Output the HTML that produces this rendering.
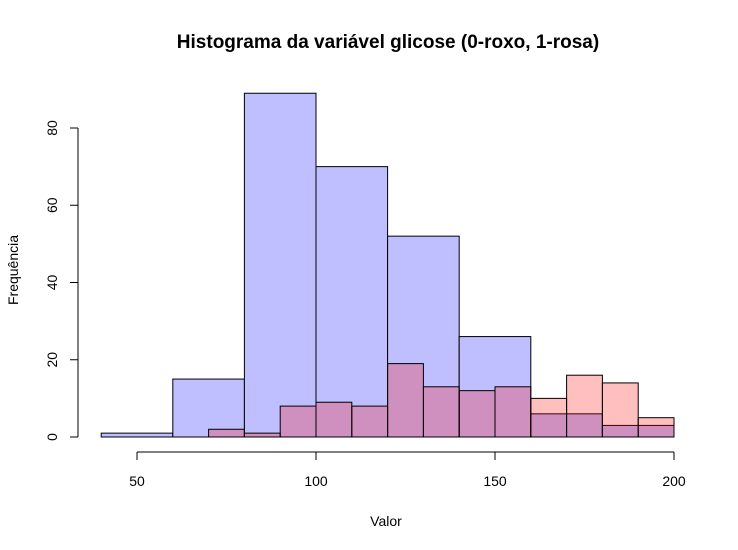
<!DOCTYPE html>
<html><head><meta charset="utf-8"><style>body{margin:0;background:#fff}svg{display:block;font-family:"Liberation Sans",Arial,sans-serif}</style></head>
<body>
<svg id="c" width="738" height="550">
<text x="388" y="48" text-anchor="middle" font-weight="bold" font-size="19">Histograma da variável glicose (0-roxo, 1-rosa)</text>
<text x="386" y="526" text-anchor="middle" font-size="14">Valor</text>
<text transform="translate(18,270) rotate(-90)" text-anchor="middle" font-size="14">Frequência</text>
<g id="bars"></g><g id="axes"></g>
</svg>
<script>
const blueBreaks=[40,60,80,100,120,140,160,180,200];
const blueCounts=[1,15,89,70,52,26,6,3];
const pinkBreaks=[70,80,90,100,110,120,130,140,150,160,170,180,190,200];
const pinkCounts=[2,1,8,9,8,19,13,12,13,10,16,14,5];
const xTicks=[50,100,150,200];
const yTicks=[0,20,40,60,80];
const NS="http://www.w3.org/2000/svg";
const X=v=>316+(v-100)*3.58, Y=v=>437-v*3.8625;
const bars=document.getElementById('bars'), axes=document.getElementById('axes');
function mk(p,tag,a){const e=document.createElementNS(NS,tag);for(const k in a)e.setAttribute(k,a[k]);p.appendChild(e);return e;}
function drawHist(br,ct,fill,name){ct.forEach((c,i)=>{const r=mk(bars,'rect',{x:X(br[i]),y:Y(c),width:X(br[i+1])-X(br[i]),height:Y(0)-Y(c),fill:fill,stroke:'#000','stroke-width':1});

});}
drawHist(blueBreaks,blueCounts,'#BFBFFF','group0');
drawHist(pinkBreaks,pinkCounts,'rgba(255,0,0,0.25)','group1');
const xl=mk(axes,'line',{x1:X(xTicks[0]),x2:X(xTicks[xTicks.length-1]),y1:452,y2:452,stroke:'#000'});


xTicks.forEach(t=>{mk(axes,'line',{x1:X(t),x2:X(t),y1:452,y2:460,stroke:'#000'});
const tx=mk(axes,'text',{x:X(t),y:486,'text-anchor':'middle','font-size':14});tx.textContent=t;

});
const yl=mk(axes,'line',{x1:78,x2:78,y1:Y(yTicks[0]),y2:Y(yTicks[yTicks.length-1]),stroke:'#000'});


yTicks.forEach(t=>{mk(axes,'line',{x1:70,x2:78,y1:Y(t),y2:Y(t),stroke:'#000'});
const tx=mk(axes,'text',{transform:`translate(57,${Y(t)}) rotate(-90)`,'text-anchor':'middle','font-size':14});tx.textContent=t;

});
</script>
</body></html>
